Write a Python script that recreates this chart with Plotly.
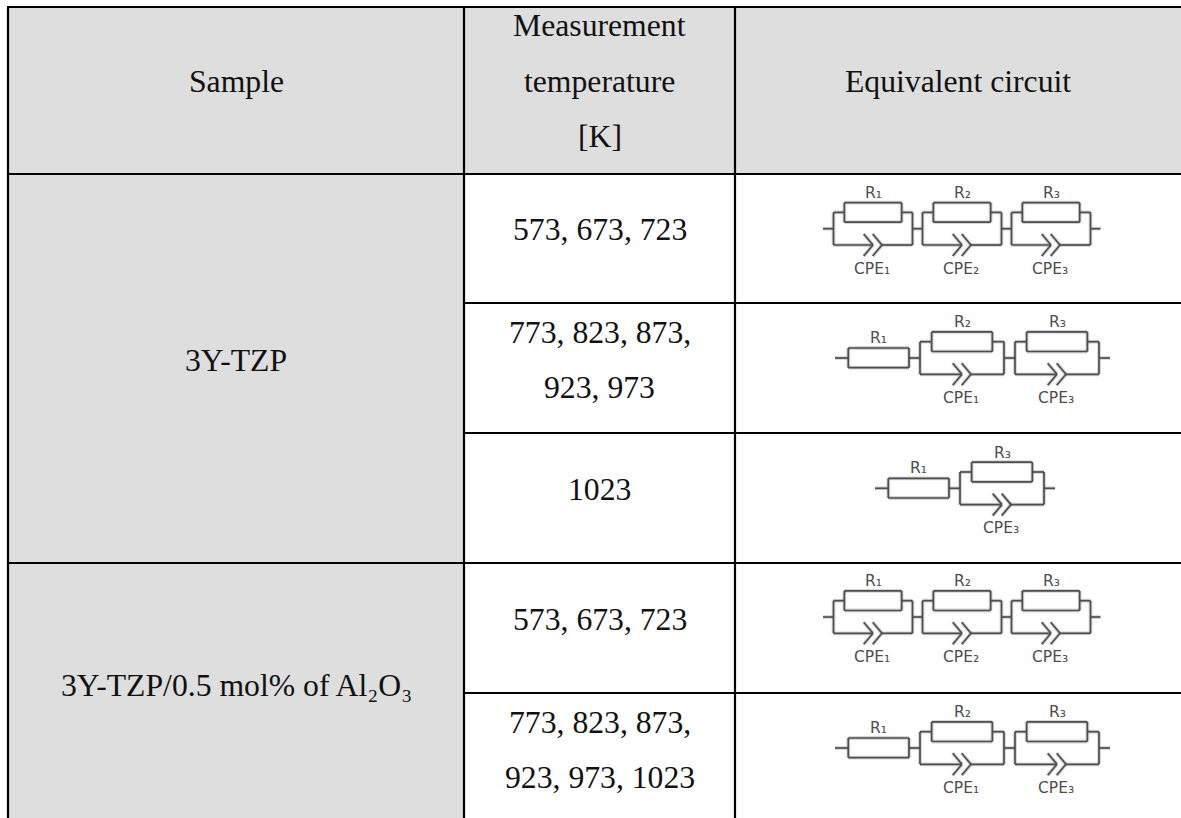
import plotly.graph_objects as go

# ---- table content ----
header_labels = ["Sample", ["Measurement", "temperature", "[K]"], "Equivalent circuit"]
sample_labels = ["3Y-TZP", "3Y-TZP/0.5 mol% of Al₂O₃"]
temperature_rows = [
    ["573, 673, 723"],
    ["773, 823, 873,", "923, 973"],
    ["1023"],
    ["573, 673, 723"],
    ["773, 823, 873,", "923, 973, 1023"],
]
# circuit of each row: a series resistor (None for none) then parallel R/CPE pairs
circuit_series = [None, "R₁", "R₁", None, "R₁"]
circuit_parallel = [
    [("R₁", "CPE₁"), ("R₂", "CPE₂"), ("R₃", "CPE₃")],
    [("R₂", "CPE₁"), ("R₃", "CPE₃")],
    [("R₃", "CPE₃")],
    [("R₁", "CPE₁"), ("R₂", "CPE₂"), ("R₃", "CPE₃")],
    [("R₂", "CPE₁"), ("R₃", "CPE₃")],
]

# ---- layout of the table (pixel space of the axes) ----
W, H = 1181, 818
LEFT, TOP = 8, 7
COL1, COL2 = 464, 735
HEAD = 174
ROWS = [303, 433, 563, 693]
FILL = "#dedede"
SERIF = "Liberation Serif"
SANS = "DejaVu Sans"
FS = 31.7
LS = 15.5
INK = "#4d4d4d"

shapes = []
annots = []


def rect(x0, y0, x1, y1, fill):
    shapes.append(dict(type="rect", x0=x0, y0=y0, x1=x1, y1=y1,
                       fillcolor=fill, line=dict(width=0), layer="below"))


def rule(x0, y0, x1, y1, width=2.2, color="black"):
    shapes.append(dict(type="line", x0=x0, y0=y0, x1=x1, y1=y1,
                       line=dict(color=color, width=width)))


def text(x, baseline, s, size=FS, color="#111111", family=SERIF, k=0.30):
    annots.append(dict(x=x, y=baseline - k * size, text=s, showarrow=False,
                       xanchor="center", yanchor="middle",
                       font=dict(family=family, size=size, color=color)))


def wire(x0, y0, x1, y1):
    # a soft wide stroke under a darker one gives the scanned look
    rule(x0, y0, x1, y1, width=3.8, color="rgba(90,90,90,0.25)")
    rule(x0, y0, x1, y1, width=1.7, color=INK)


def box(x0, y0, x1, y1):
    wire(x0, y0, x1, y0)
    wire(x1, y0, x1, y1)
    wire(x1, y1, x0, y1)
    wire(x0, y1, x0, y0)


def circuit(x, yc, series, pairs):
    compact = series is None
    blk = 79 if compact else 84
    bw = 57.3 if compact else 60.7
    link = 10 if compact else 11
    lead = 10.5 if compact else 13.3
    wire(x, yc, x + lead, yc)
    x += lead
    if series:
        box(x, yc - 10, x + 60.7, yc + 9.7)
        text(x + 30, yc - 20, series, LS, INK, SANS, 0.0)
        x += 60.7
        wire(x, yc, x + link, yc)
        x += link
    for i, (r, c) in enumerate(pairs):
        mid = x + blk / 2
        bx0, bx1 = mid - bw / 2, mid + bw / 2
        top, bot = yc - 16.3, yc + 16.3
        wire(x, top, x, bot)
        wire(x + blk, top, x + blk, bot)
        wire(x, top, bx0, top)
        wire(bx1, top, x + blk, top)
        box(bx0, top - 9.8, bx1, top + 9.8)
        wire(x, bot, mid, bot)
        wire(mid + 9, bot, x + blk, bot)
        for dx in (0, 9):
            wire(mid + dx - 9.3, bot - 11, mid + dx, bot)
            wire(mid + dx, bot, mid + dx - 9.3, bot + 11)
        text(mid, top - 19.5, r, LS, INK, SANS, 0.0)
        text(mid - 1, bot + 23.5, c, LS, INK, SANS, 0.0)
        x += blk
        if i < len(pairs) - 1:
            wire(x, yc, x + link, yc)
            x += link
    wire(x, yc, x + (10 if compact else 11), yc)


# ---- fills ----
rect(LEFT, TOP, COL1, H, FILL)
rect(COL1, TOP, W, HEAD, FILL)

# ---- grid ----
rule(LEFT - 1, TOP, W, TOP)
rule(LEFT, HEAD, W, HEAD)
rule(LEFT, ROWS[2], W, ROWS[2])
for r in (ROWS[0], ROWS[1], ROWS[3]):
    rule(COL1, r, W, r)
for c in (LEFT, COL1, COL2):
    rule(c, TOP, c, H)

# ---- header ----
C0, C1, C2 = (LEFT + COL1) / 2, (COL1 + COL2) / 2, (COL2 + W) / 2
text(C0, 91, header_labels[0])
for line, b in zip(header_labels[1], (35, 90.7, 146)):
    text(C1, b, line)
text(C2, 91, header_labels[2])

# ---- sample cells ----
text(C0, 370, sample_labels[0])
text(C0, 695, sample_labels[1])

# ---- temperature cells ----
one_line = [239.5, None, 499.3, 629, None]
two_lines = [None, (342, 396.7), None, None, (732, 786.7)]
for i, lines in enumerate(temperature_rows):
    bases = [one_line[i]] if len(lines) == 1 else two_lines[i]
    for line, b in zip(lines, bases):
        text(C1, b, line)

# ---- circuits ----
starts = [823, 835, 875, 823, 835]
centers = [228.7, 358, 488.3, 617, 748]
for s, c, ser, par in zip(starts, centers, circuit_series, circuit_parallel):
    circuit(s, c, ser, par)

fig = go.Figure()
fig.update_layout(
    width=W, height=H, autosize=False,
    margin=dict(l=0, r=0, t=0, b=0, pad=0),
    paper_bgcolor="white", plot_bgcolor="white",
    xaxis=dict(range=[0, W], visible=False, fixedrange=True),
    yaxis=dict(range=[H, 0], visible=False, fixedrange=True),
    shapes=shapes, annotations=annots, showlegend=False,
)
fig.write_html("out.html", config={"displayModeBar": False},
               post_script="document.body.style.margin='0';document.body.style.overflow='hidden';")
